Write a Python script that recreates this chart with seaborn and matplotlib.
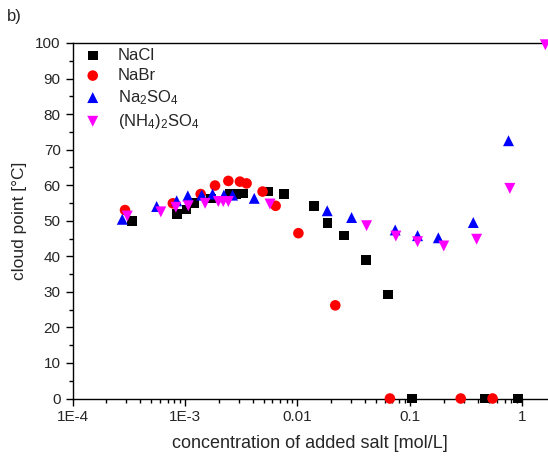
import numpy as np
import pandas as pd
import matplotlib
matplotlib.use("Agg")
import matplotlib.pyplot as plt
import matplotlib.ticker as mticker
import seaborn as sns

# ---- data ----
nacl_x = [3.4e-4, 8.5e-4, 1.03e-3, 1.2e-3, 1.7e-3, 2.5e-3, 2.85e-3, 3.3e-3, 5.5e-3, 7.6e-3,
          1.4e-2, 1.85e-2, 2.6e-2, 4.05e-2, 6.4e-2, 0.105, 0.46, 0.92]
nacl_y = [49.9, 51.9, 53.2, 54.9, 56.3, 57.5, 57.5, 57.7, 58.2, 57.5,
          54.2, 49.3, 45.8, 39.0, 29.2, 0, 0, 0]

nabr_x = [2.93e-4, 7.8e-4, 1.38e-3, 1.85e-3, 2.43e-3, 3.08e-3, 3.53e-3, 4.9e-3, 6.4e-3,
          1.02e-2, 2.17e-2, 0.0664, 0.283, 0.543]
nabr_y = [53.0, 54.9, 57.5, 59.9, 61.2, 61.0, 60.5, 58.2, 54.2,
          46.5, 26.2, 0, 0, 0]

na2so4_x = [2.77e-4, 5.6e-4, 8.44e-4, 1.06e-3, 1.41e-3, 1.76e-3, 2.22e-3, 2.65e-3, 4.13e-3,
            1.84e-2, 3.03e-2, 7.4e-2, 0.117, 0.179, 0.366, 0.753]
na2so4_y = [50.4, 54.0, 55.6, 57.0, 57.2, 57.5, 57.2, 57.2, 56.3,
            52.8, 50.9, 47.4, 45.8, 45.2, 49.5, 72.5]

nh4so4_x = [3.07e-4, 6.1e-4, 8.3e-4, 1.07e-3, 1.51e-3, 1.98e-3, 2.19e-3, 2.43e-3, 5.7e-3,
            4.12e-2, 7.5e-2, 0.117, 0.2, 0.392, 0.774, 1.6]
nh4so4_y = [51.3, 52.5, 53.8, 54.2, 54.9, 55.4, 55.4, 55.4, 54.7,
            48.6, 45.7, 44.1, 42.9, 44.8, 59.1, 99.5]

labels = ["NaCl", "NaBr", "Na$_2$SO$_4$", "(NH$_4$)$_2$SO$_4$"]
colors = ["#000000", "#FF0000", "#0000FF", "#FF00FF"]
markers = ["s", "o", "^", "v"]
sizes = [48, 58, 62, 62]

xticks = [1e-4, 1e-3, 1e-2, 1e-1, 1]
xticklabels = ["1E-4", "1E-3", "0.01", "0.1", "1"]

# ---- style ----
sns.set_style("ticks")
plt.rcParams["font.family"] = ["Liberation Sans", "DejaVu Sans"]
plt.rcParams["mathtext.fontset"] = "custom"
plt.rcParams["mathtext.rm"] = "Liberation Sans"
plt.rcParams["mathtext.it"] = "Liberation Sans:italic"

fig = plt.figure(figsize=(5.48, 4.57), dpi=100)
ax = fig.add_axes([0.1323, 0.128, 0.8677, 0.778])

series = [(nacl_x, nacl_y), (nabr_x, nabr_y), (na2so4_x, na2so4_y), (nh4so4_x, nh4so4_y)]
for (xs, ys), lab, c, m, s in zip(series, labels, colors, markers, sizes):
    df = pd.DataFrame({"x": xs, "y": ys})
    sns.scatterplot(data=df, x="x", y="y", marker=m, color=c, s=s, edgecolor="none",
                    linewidth=0, label=lab, ax=ax, clip_on=False, zorder=3)

ax.set_xscale("log")
ax.set_xlim(1e-4, 1.69)
ax.set_ylim(0, 100)

ax.xaxis.set_major_locator(mticker.FixedLocator(xticks))
ax.xaxis.set_major_formatter(mticker.FixedFormatter(xticklabels))
ax.xaxis.set_minor_locator(mticker.LogLocator(base=10, subs=np.arange(2, 10), numticks=20))
ax.xaxis.set_minor_formatter(mticker.NullFormatter())
ax.yaxis.set_major_locator(mticker.MultipleLocator(10))
ax.yaxis.set_minor_locator(mticker.MultipleLocator(5))

ax.tick_params(which="major", direction="out", length=5, width=1, labelsize=11, color="black")
ax.tick_params(which="minor", direction="out", length=3, width=1, color="black")
for sp in ["left", "bottom", "top"]:
    ax.spines[sp].set_visible(True)
    ax.spines[sp].set_linewidth(1.0)
    ax.spines[sp].set_color("black")
ax.spines["right"].set_visible(False)

ax.set_xlabel("concentration of added salt [mol/L]", fontsize=13, labelpad=8)
ax.set_ylabel("cloud point [°C]", fontsize=12.5, labelpad=6)

leg = ax.legend(loc="upper left", bbox_to_anchor=(0.011, 1.0), frameon=False, fontsize=12,
                handletextpad=0.9, labelspacing=0.3, borderaxespad=0.0, borderpad=0.3,
                handlelength=1.2)

fig.text(0.012, 0.955, "b)", fontsize=12)

fig.savefig("out.png", dpi=100)
